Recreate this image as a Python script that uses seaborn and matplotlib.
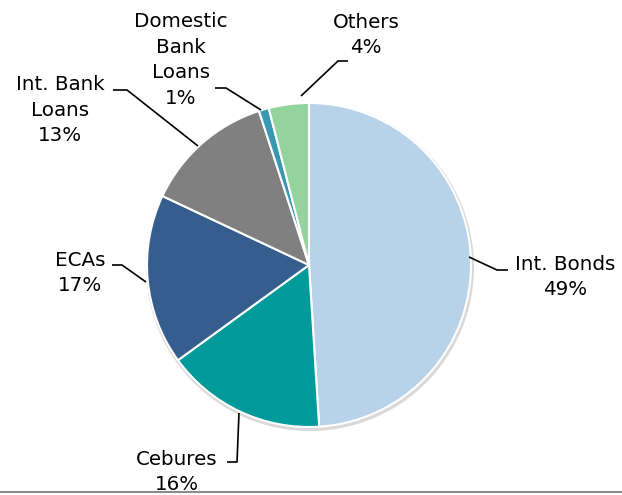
"""
Funding mix pie chart - share of debt by source
"""

import matplotlib.pyplot as plt
import seaborn as sns

sns.set_style("white")
plt.rcParams['font.family'] = ['DejaVu Sans']

# Data (clockwise from 12 o'clock)
sources = ['Int. Bonds', 'Cebures', 'ECAs', 'Int. Bank\nLoans', 'Domestic\nBank\nLoans', 'Others']
shares = [49, 16, 17, 13, 1, 4]
colors = ['#b8d3e9', '#009a9a', '#355e8f', '#808080', '#3a97b2', '#95d39e']

# label anchor (text centre, pixel coords) and leader path (pixels)
label_pos = [(565, 277), (177, 472), (80, 273), (60, 110), (181, 60), (366, 35)]
leaders = [
    [(469, 257), (497, 270), (508, 270)],
    [(239, 413), (237, 462), (227, 462)],
    [(146, 282), (122, 265), (112, 265)],
    [(198, 146), (127, 90), (113, 90)],
    [(261, 110), (226, 88), (215, 88)],
    [(301, 96), (338, 61), (348, 61)],
]

W, H = 622, 495
fig = plt.figure(figsize=(W / 100, H / 100), dpi=100)
ax = fig.add_axes([0, 0, 1, 1])

cx, cy, r = 309, H - 265, 162

# soft shadow behind the pie
ax.pie([1], radius=r + 2, center=(cx + 1, cy - 2), colors=['#d9d9d9'],
       wedgeprops=dict(linewidth=0), frame=True)
ax.pie(shares, radius=r, center=(cx, cy), colors=colors, startangle=90,
       counterclock=False, frame=True,
       wedgeprops=dict(edgecolor='white', linewidth=1.5))
ax.set_xlim(0, W)
ax.set_ylim(0, H)
ax.set_aspect('equal')
ax.axis('off')

for name, pct, (tx, ty), path in zip(sources, shares, label_pos, leaders):
    ax.text(tx, H - ty, f'{name}\n{pct}%', ha='center', va='center',
            fontsize=14.3, color='black', linespacing=1.45)
    xs = [p[0] for p in path]
    ys = [H - p[1] for p in path]
    ax.plot(xs, ys, color='black', linewidth=1.2, solid_capstyle='butt')

# thin gray rule at the bottom edge
ax.plot([0, W], [3, 3], color='#8c8c8c', linewidth=1.5)

plt.savefig('out.png', dpi=100)
plt.close()
